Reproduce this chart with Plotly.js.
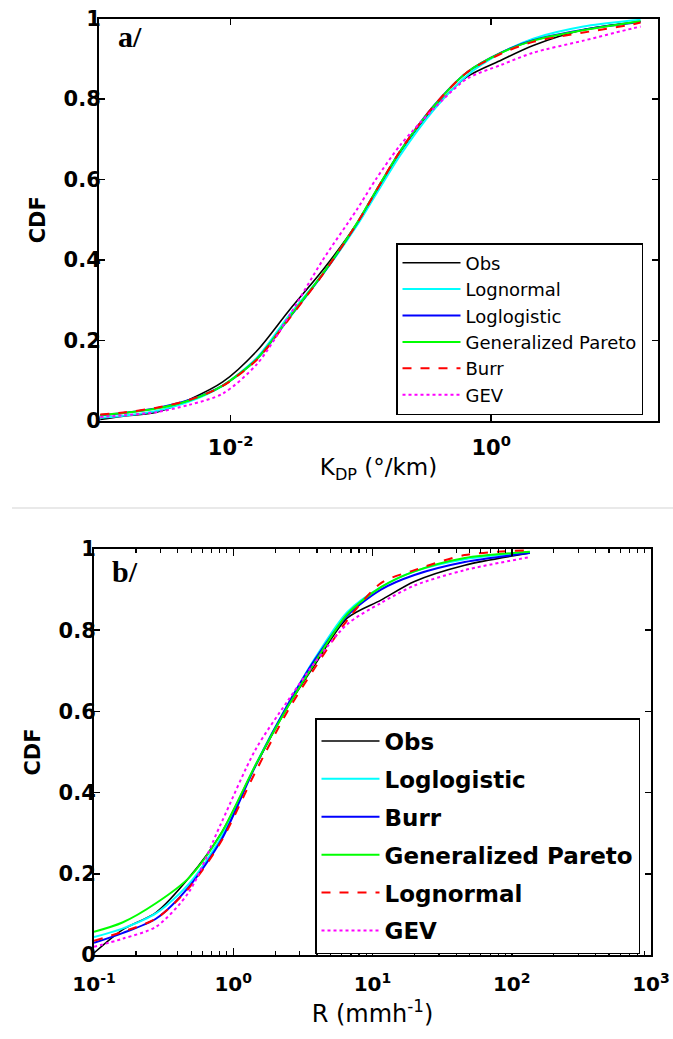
<!DOCTYPE html>
<html>
<head>
<meta charset="utf-8">
<script src="https://cdn.plot.ly/plotly-3.0.1.min.js"></script>
<style>html,body{margin:0;padding:0;background:#fff;}#chart{width:673px;height:1039px;}</style>
</head>
<body>
<div id="chart"></div>
<script>
// ---- Panel a: K_DP (deg/km) ----
const kdp = [0.001, 0.0015, 0.0027, 0.0048, 0.0087, 0.016, 0.028, 0.051, 0.093, 0.13, 0.2, 0.36, 0.65, 1.2, 2.1, 5.1, 12, 14];
const obsA  = [0.004, 0.012, 0.022, 0.053, 0.097, 0.175, 0.274, 0.375, 0.49, 0.568, 0.668, 0.775, 0.855, 0.897, 0.933, 0.972, 0.99, 0.993];
const lognA = [0.008, 0.013, 0.025, 0.048, 0.088, 0.158, 0.262, 0.365, 0.485, 0.562, 0.66, 0.772, 0.858, 0.915, 0.95, 0.98, 0.995, 0.997];
const llogA = [0.014, 0.02, 0.032, 0.052, 0.088, 0.155, 0.255, 0.365, 0.49, 0.57, 0.67, 0.782, 0.866, 0.916, 0.946, 0.972, 0.989, 0.991];
const gpA   = [0.015, 0.02, 0.031, 0.051, 0.088, 0.155, 0.256, 0.366, 0.491, 0.571, 0.67, 0.781, 0.866, 0.915, 0.945, 0.971, 0.99, 0.993];
const burrA = [0.016, 0.021, 0.033, 0.052, 0.087, 0.153, 0.253, 0.364, 0.49, 0.57, 0.671, 0.782, 0.866, 0.913, 0.942, 0.965, 0.985, 0.99];
const gevA  = [0.01, 0.014, 0.022, 0.04, 0.068, 0.142, 0.26, 0.4, 0.525, 0.6, 0.685, 0.775, 0.85, 0.885, 0.915, 0.945, 0.975, 0.98];

// ---- Panel b: R (mm/h) ----
const rain  = [0.1, 0.16, 0.28, 0.48, 0.82, 1.44, 2.45, 3.85, 6.6, 11.5, 20, 46, 135];
const obsB  = [0.005, 0.062, 0.105, 0.19, 0.3, 0.465, 0.61, 0.715, 0.83, 0.874, 0.92, 0.96, 0.99];
const llogB = [0.044, 0.065, 0.103, 0.175, 0.29, 0.467, 0.615, 0.73, 0.845, 0.906, 0.945, 0.975, 0.992];
const burrB = [0.03, 0.054, 0.09, 0.168, 0.283, 0.465, 0.615, 0.727, 0.836, 0.9, 0.936, 0.968, 0.99];
const gpB   = [0.057, 0.08, 0.128, 0.19, 0.3, 0.467, 0.61, 0.72, 0.84, 0.906, 0.945, 0.978, 0.993];
const lognB = [0.035, 0.057, 0.09, 0.165, 0.28, 0.45, 0.6, 0.707, 0.825, 0.916, 0.948, 0.985, 0.997];
const gevB  = [0.02, 0.04, 0.07, 0.155, 0.325, 0.505, 0.625, 0.72, 0.815, 0.867, 0.91, 0.948, 0.98];

const yTicks = [0, 0.2, 0.4, 0.6, 0.8, 1];
const yTickText = ['0', '0.2', '0.4', '0.6', '0.8', '1'];
const xTicksA = [0.01, 1];
const xTickTextA = ['10<sup>-2</sup>', '10<sup>0</sup>'];
const xTicksB = [0.1, 1, 10, 100, 1000];
const xTickTextB = ['10<sup>-1</sup>', '10<sup>0</sup>', '10<sup>1</sup>', '10<sup>2</sup>', '10<sup>3</sup>'];

const C = {obs:'#000000', cyan:'#00ffff', blue:'#0000ff', green:'#00ff00', red:'#ff0000', mag:'#ff00ff'};

function tr(x, y, name, color, dash, width, xa, ya, leg, grp) {
  return {x:x, y:y, name:name, type:'scatter', mode:'lines', xaxis:xa, yaxis:ya, legend:leg, legendgroup:grp,
          line:{color:color, dash:dash, width:width, shape:'spline', smoothing:0.8}};
}

const data = [
  tr(kdp, obsA,  'Obs', C.obs, 'solid', 1.6, 'x', 'y', 'legend', 'a1'),
  tr(kdp, lognA, 'Lognormal', C.cyan, 'solid', 2, 'x', 'y', 'legend', 'a2'),
  tr(kdp, llogA, 'Loglogistic', C.blue, 'solid', 2, 'x', 'y', 'legend', 'a3'),
  tr(kdp, gpA,   'Generalized Pareto', C.green, 'solid', 2, 'x', 'y', 'legend', 'a4'),
  tr(kdp, burrA, 'Burr', C.red, 'dash', 2, 'x', 'y', 'legend', 'a5'),
  tr(kdp, gevA,  'GEV', C.mag, 'dot', 2, 'x', 'y', 'legend', 'a6'),
  tr(rain, obsB,  'Obs', C.obs, 'solid', 1.6, 'x2', 'y2', 'legend2', 'b1'),
  tr(rain, llogB, 'Loglogistic', C.cyan, 'solid', 2, 'x2', 'y2', 'legend2', 'b2'),
  tr(rain, burrB, 'Burr', C.blue, 'solid', 2, 'x2', 'y2', 'legend2', 'b3'),
  tr(rain, gpB,   'Generalized Pareto', C.green, 'solid', 2, 'x2', 'y2', 'legend2', 'b4'),
  tr(rain, lognB, 'Lognormal', C.red, 'dash', 2, 'x2', 'y2', 'legend2', 'b5'),
  tr(rain, gevB,  'GEV', C.mag, 'dot', 2, 'x2', 'y2', 'legend2', 'b6')
];

const W = 673, H = 1039;
const FONT = 'DejaVu Sans, Arial, sans-serif';
const tickFont = {family:FONT, size:21, color:'#000', weight:'bold'};

function axBase() {
  return {showline:true, linecolor:'#000', linewidth:2, mirror:'ticks', ticks:'inside', ticklen:6,
          tickwidth:1.5, tickcolor:'#000', showgrid:false, zeroline:false, tickfont:tickFont, fixedrange:true,
          ticklabeloverflow:'allow'};
}

const layout = {
  width:W, height:H, autosize:false,
  margin:{l:0, r:0, t:0, b:0, pad:0},
  paper_bgcolor:'#fff', plot_bgcolor:'#fff',
  font:{family:FONT, color:'#000'},
  xaxis: Object.assign(axBase(), {
    type:'log', range:[-3.01, 1.28], domain:[99/W, 658/W], anchor:'y',
    tickmode:'array', tickvals:xTicksA, ticktext:xTickTextA, ticklabelstandoff:7,
    title:{text:'K<sub>DP</sub> (°/km)', font:{family:FONT, size:23, color:'#000'}, standoff:0}
  }),
  yaxis: Object.assign(axBase(), {
    range:[0, 1], domain:[1-421/H, 1-18.5/H], anchor:'x',
    tickmode:'array', tickvals:yTicks, ticktext:yTickText, ticklabelstandoff:-8,
    title:{text:'CDF', font:{family:FONT, size:21, color:'#000', weight:'bold'}, standoff:12}
  }),
  xaxis2: Object.assign(axBase(), {
    type:'log', range:[-1, 3], domain:[94/W, 651/W], anchor:'y2',
    tickmode:'array', tickvals:xTicksB, ticktext:xTickTextB, ticklen:7, ticklabelstandoff:10,
    tickfont:{family:FONT, size:20, color:'#000', weight:'bold'},
    minor:{dtick:'D1', ticks:'inside', ticklen:4, tickwidth:1.2, tickcolor:'#000', showgrid:false},
    title:{text:'R (mmh<sup>-1</sup>)', font:{family:FONT, size:24, color:'#000'}, standoff:3}
  }),
  yaxis2: Object.assign(axBase(), {
    range:[0, 1], domain:[1-955/H, 1-549/H], anchor:'x2',
    tickmode:'array', tickvals:yTicks, ticktext:yTickText, ticklabelstandoff:-8,
    title:{text:'CDF', font:{family:FONT, size:21, color:'#000', weight:'bold'}, standoff:12}
  }),
  legend:{x:396/W, y:1-243/H, xanchor:'left', yanchor:'top', bgcolor:'#fff', bordercolor:'#000', borderwidth:1.5,
          font:{family:FONT, size:18, color:'#000'}, tracegroupgap:0, itemwidth:58},
  legend2:{x:315/W, y:1-718/H, xanchor:'left', yanchor:'top', bgcolor:'#fff', bordercolor:'#000', borderwidth:1.5,
          font:{family:FONT, size:23, color:'#000', weight:'bold'}, tracegroupgap:5, itemwidth:58},
  showlegend:true,
  annotations:[
    {text:'a/', xref:'paper', yref:'paper', x:116/W, y:1-37/H, xanchor:'left', yanchor:'middle', showarrow:false,
     font:{family:'Liberation Serif, Times New Roman, serif', size:30, color:'#000', weight:'bold'}},
    {text:'b/', xref:'paper', yref:'paper', x:110/W, y:1-571/H, xanchor:'left', yanchor:'middle', showarrow:false,
     font:{family:'Liberation Serif, Times New Roman, serif', size:30, color:'#000', weight:'bold'}}
  ],
  shapes:[
    {type:'line', xref:'paper', yref:'paper', x0:12/W, x1:1, y0:1-508/H, y1:1-508/H, line:{color:'#e2e2e2', width:1.5}}
  ]
};

Plotly.newPlot('chart', data, layout, {staticPlot:true, displayModeBar:false});
</script>
</body>
</html>
